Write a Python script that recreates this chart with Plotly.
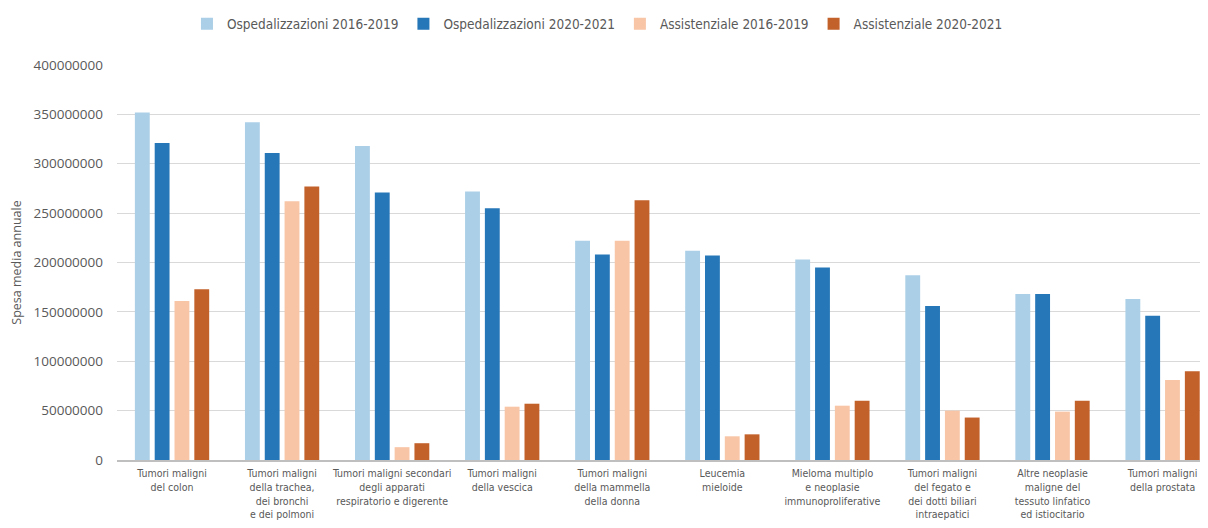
import plotly.graph_objects as go

categories = [
    "Tumori maligni<br>del colon",
    "Tumori maligni<br>della trachea,<br>dei bronchi<br>e dei polmoni",
    "Tumori maligni secondari<br>degli apparati<br>respiratorio e digerente",
    "Tumori maligni<br>della vescica",
    "Tumori maligni<br>della mammella<br>della donna",
    "Leucemia<br>mieloide",
    "Mieloma multiplo<br>e neoplasie<br>immunoproliferative",
    "Tumori maligni<br>del fegato e<br>dei dotti biliari<br>intraepatici",
    "Altre neoplasie<br>maligne del<br>tessuto linfatico<br>ed istiocitario",
    "Tumori maligni<br>della prostata",
]

osp_2016_2019 = [352e6, 342e6, 318e6, 272e6, 222e6, 212e6, 203e6, 187e6, 168e6, 163e6]
osp_2020_2021 = [321e6, 311e6, 271e6, 255e6, 208e6, 207e6, 195e6, 156e6, 168e6, 146e6]
ass_2016_2019 = [161e6, 262e6, 13e6, 54e6, 222e6, 24e6, 55e6, 50e6, 49e6, 81e6]
ass_2020_2021 = [173e6, 277e6, 17e6, 57e6, 263e6, 26e6, 60e6, 43e6, 60e6, 90e6]

y_ticks = [0, 50e6, 100e6, 150e6, 200e6, 250e6, 300e6, 350e6, 400e6]

series_names = ["Ospedalizzazioni 2016-2019", "Ospedalizzazioni 2020-2021",
                "Assistenziale 2016-2019", "Assistenziale 2020-2021"]
series_values = [osp_2016_2019, osp_2020_2021, ass_2016_2019, ass_2020_2021]
colors = ["#abcfe7", "#2677b8", "#f8c5a6", "#c3612a"]

fig = go.Figure()
for name, vals, col in zip(series_names, series_values, colors):
    fig.add_trace(go.Bar(name=name, x=categories, y=vals, marker_color=col,
                         marker_line_width=0))

cond = "DejaVu Sans Condensed, Liberation Sans Narrow, sans-serif"
tickf = "Open Sans, DejaVu Sans, sans-serif"

fig.update_layout(
    width=1192, height=512,
    margin=dict(l=109, r=0, t=57, b=60, autoexpand=False),
    paper_bgcolor="white", plot_bgcolor="white",
    barmode="group", bargap=0.28, bargroupgap=0.25,
    font=dict(family=cond, color="#595959", size=12),
    legend=dict(orientation="h", x=0.0646, xanchor="left", y=1.104, yanchor="middle",
                font=dict(size=13.5, color="#595959", family=cond), itemwidth=30,
                traceorder="normal"),
    yaxis=dict(range=[0, 400e6], tickvals=y_ticks, automargin=False,
               tickformat="d", gridcolor="#d9d9d9", gridwidth=1, zeroline=False,
               tickfont=dict(family=tickf, size=13.5, color="#595959"),
               ticklabelstandoff=13,
               title=dict(text="Spesa media annuale", standoff=10,
                          font=dict(family=tickf, size=12.5, color="#595959"))),
    xaxis=dict(showline=True, linecolor="#bfbfbf", linewidth=1.5, automargin=False,
               range=[-0.5, 9.34],
               tickfont=dict(size=10.5, color="#595959", family=cond), ticks="",
               ticklabelstandoff=3),
)

fig.write_html("out.html")
